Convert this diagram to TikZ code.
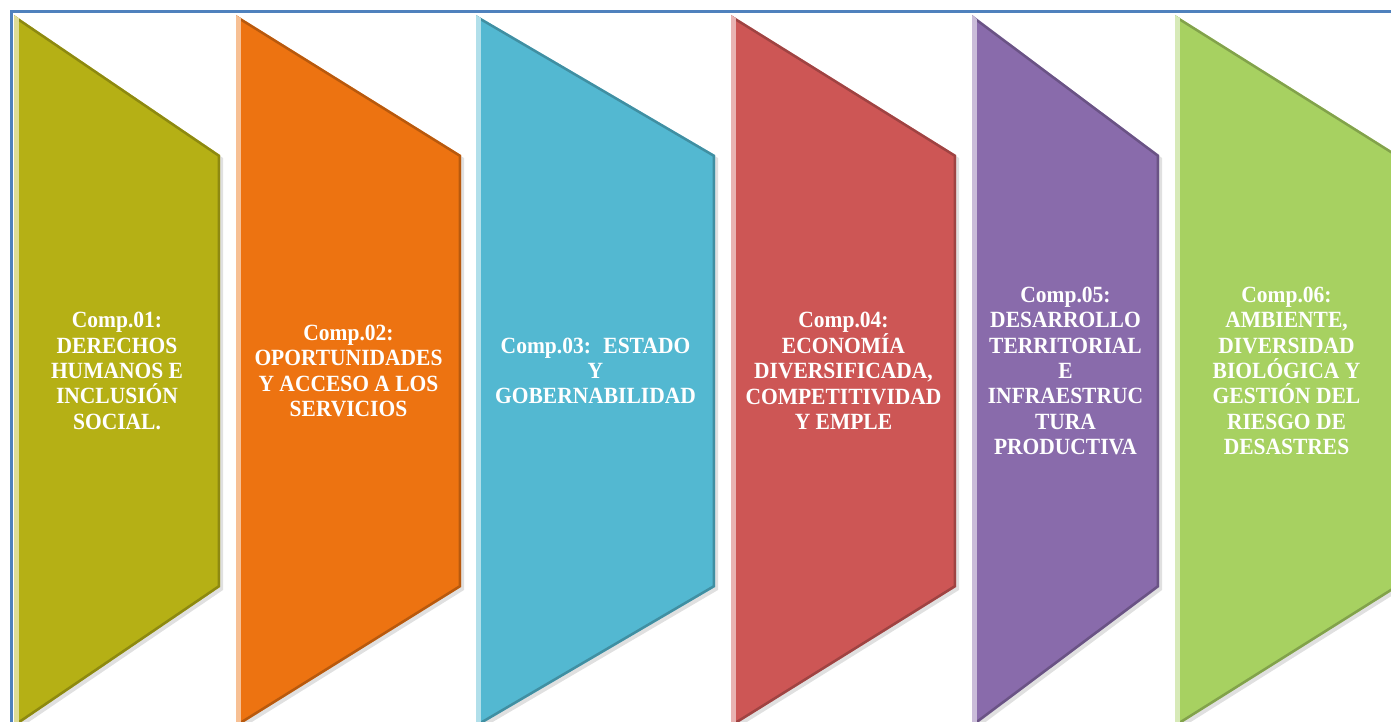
\documentclass[tikz,border=0pt]{standalone}
\usepackage{fontspec}
\setmainfont{Liberation Serif}
\usepackage{xcolor}
\usetikzlibrary{positioning,calc}

\definecolor{compuno}{RGB}{181,176,21}
\definecolor{compdos}{RGB}{237,115,17}
\definecolor{comptres}{RGB}{83,184,209}
\definecolor{compcuatro}{RGB}{205,86,85}
\definecolor{compcinco}{RGB}{137,107,171}
\definecolor{compseis}{RGB}{167,209,97}
\definecolor{marco}{RGB}{79,129,189}

\begin{document}
\begin{tikzpicture}
	[x=1pt,y=-1pt,
	lbl/.style={text=white,font=\bfseries\fontsize{21.5}{23.5}\selectfont,align=center,inner sep=0pt,yscale=1.08,transform shape},
	marcoline/.style={draw=marco,line width=3pt}]
	\useasboundingbox (0,0) rectangle (1391,722);
	\clip (0,0) rectangle (1391,722);
	%%%%% FRAME
	\draw[marcoline] (11,740) -- (11,12) -- (1400,12);
	%%%%% COMPONENTS
	\foreach \xl/\xr/\col/\txt [count=\k] in {
		14/220/compuno/{Comp.01:\\DERECHOS\\HUMANOS E\\INCLUSIÓN\\SOCIAL.},
		236/461/compdos/{Comp.02:\\OPORTUNIDADES\\Y ACCESO A LOS\\SERVICIOS},
		476/715/comptres/{Comp.03:~ ESTADO\\Y\\GOBERNABILIDAD},
		731/956/compcuatro/{Comp.04:\\ECONOMÍA\\DIVERSIFICADA,\\COMPETITIVIDAD\\Y EMPLE},
		972/1159/compcinco/{Comp.05:\\DESARROLLO\\TERRITORIAL\\E\\INFRAESTRUC\\TURA\\PRODUCTIVA},
		1175/1398/compseis/{Comp.06:\\AMBIENTE,\\DIVERSIDAD\\BIOLÓGICA Y\\GESTIÓN DEL\\RIESGO DE\\DESASTRES}}
	{
	\coordinate (top\k) at (\xl,15);
	\coordinate (up\k) at (\xr,155);
	\coordinate (lo\k) at (\xr,587);
	\coordinate (bot\k) at (\xl,727);
	% soft shadow
	\fill[black,opacity=0.12] ([shift={(3,3)}]top\k) -- ([shift={(3,3)}]up\k) -- ([shift={(3,3)}]lo\k) -- ([shift={(3,3)}]bot\k) -- cycle;
	\fill[\col] (top\k) -- (up\k) -- (lo\k) -- (bot\k) -- cycle;
	\begin{scope}
	\clip (top\k) -- (up\k) -- (lo\k) -- (bot\k) -- cycle;
	\draw[\col!60!black,line width=5pt,opacity=0.55] (top\k) -- (up\k) -- (lo\k) -- (bot\k);
	\fill[\col!45!white] (top\k) rectangle ([shift={(5,0)}]bot\k);
	\end{scope}
	\node[lbl] (comp\k) at ({(\xl+\xr)/2},371) {\txt};
	};
\end{tikzpicture}
\end{document}
